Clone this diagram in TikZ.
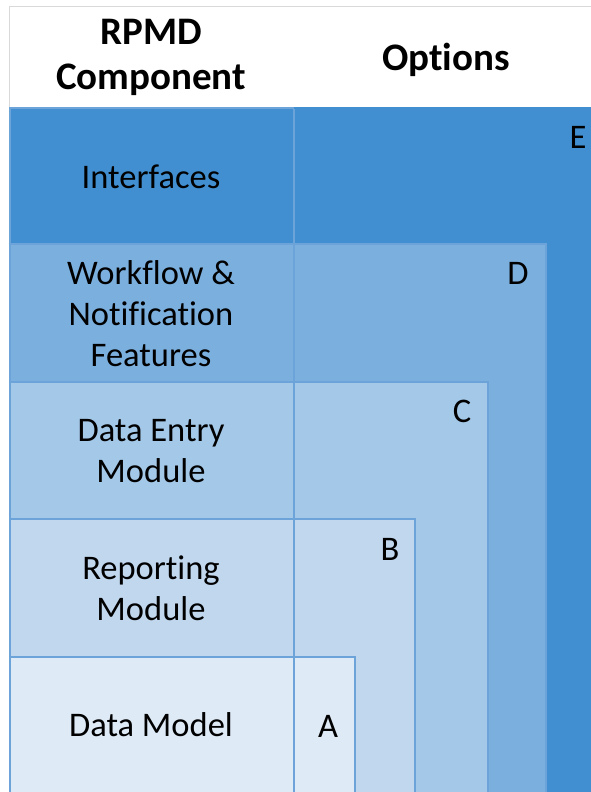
\documentclass[tikz,border=0pt]{standalone}
\usepackage{fontspec}
\setmainfont{Carlito}[Ligatures={NoCommon}]
\definecolor{cE}{HTML}{418FD0}
\definecolor{cD}{HTML}{7BAFDE}
\definecolor{cC}{HTML}{A4C8E8}
\definecolor{cB}{HTML}{C1D7EE}
\definecolor{cA}{HTML}{DEEAF6}
\definecolor{edge}{HTML}{6CA4DA}
\definecolor{hdr}{HTML}{D9D9D9}
\begin{document}
\begin{tikzpicture}[x=1pt,y=-1pt,
  cell/.style={draw=edge,line width=1.5pt,inner sep=0pt,anchor=north west},
  lbl/.style={font=\fontsize{34.5}{41}\selectfont,align=center,text=black},
  opt/.style={font=\fontsize{34.5}{41}\selectfont,text=black},
  head/.style={font=\fontsize{39}{45}\selectfont\bfseries,align=center,text=black}]
\useasboundingbox (0,0) rectangle (591,792);
\fill[white] (0,0) rectangle (591,792);
% header
\draw[hdr,line width=0.8pt] (9,107) -- (9,6.5) -- (591,6.5);
\node[head] (hcomp) at (151,57) {RPMD\\Component};
\node[head] (hopt) at (446,60) {Options};
% option boxes (nested)
\fill[cE] (293,107) rectangle (591,792);
\node[cell,fill=cD,minimum width=252pt,minimum height=549pt] (boxD) at (293,243) {};
\node[cell,fill=cC,minimum width=194pt,minimum height=411pt] (boxC) at (293,381) {};
\node[cell,fill=cB,minimum width=121pt,minimum height=274pt] (boxB) at (293,518) {};
\node[cell,fill=cA,minimum width=61pt,minimum height=136pt] (boxA) at (293,656) {};
\node[opt] (lE) at (578,137) {E};
\node[opt] (lD) at (518,273) {D};
\node[opt] (lC) at (462,411) {C};
\node[opt] (lB) at (390,549) {B};
\node[opt] (lA) at (328,726) {A};
% component column
\node[cell,fill=cE,minimum width=284pt,minimum height=136pt] (cIf) at (9,107) {};
\node[cell,fill=cD,minimum width=284pt,minimum height=138pt] (cWf) at (9,243) {};
\node[cell,fill=cC,minimum width=284pt,minimum height=137pt] (cDe) at (9,381) {};
\node[cell,fill=cB,minimum width=284pt,minimum height=138pt] (cRp) at (9,518) {};
\node[cell,fill=cA,minimum width=284pt,minimum height=137pt] (cDm) at (9,656) {};
\fill[cE] (294,107) rectangle (591,108.5);
\node[lbl] (tIf) at (151,177) {Interfaces};
\node[lbl] (tWf) at (151,314) {Workflow \&\\Notification\\Features};
\node[lbl] (tDe) at (151,451) {Data Entry\\Module};
\node[lbl] (tRp) at (151,588) {Reporting\\Module};
\node[lbl] (tDm) at (151,725) {Data Model};
\end{tikzpicture}
\end{document}
